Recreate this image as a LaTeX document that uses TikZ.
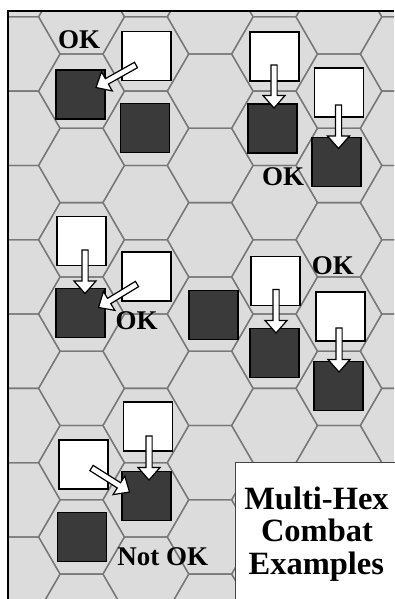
\documentclass[tikz,border=0pt]{standalone}
\usepackage{fontspec}
\setmainfont{Liberation Serif}
\usetikzlibrary{calc}
\definecolor{boardgray}{HTML}{DCDCDC}
\definecolor{hexgray}{HTML}{787878}
\definecolor{unitdark}{HTML}{3A3A3A}
\definecolor{titleborder}{HTML}{444444}
\tikzset{
  hexline/.style={draw=hexgray, line width=1.3pt},
  whitebox/.style={draw=black, fill=white, line width=1.9pt, minimum size=49pt, inner sep=0pt, outer sep=0pt},
  darkbox/.style={whitebox, fill=unitdark},
  blockarrow/.style={draw=black, fill=white, line width=1.2pt, line join=miter},
  lbl/.style={font=\bfseries\fontsize{27}{27}\selectfont, inner sep=0pt, anchor=base},
  ttl/.style={font=\bfseries\fontsize{32.5}{32.5}\selectfont, inner sep=0pt, anchor=base}
}
\newcommand\blockarr[2]{%
  \draw[blockarrow] let \p1=(#1), \p2=(#2), \n1={atan2(\y2-\y1,\x2-\x1)} in
    ($(\p1)+(\n1+90:3.1pt)$)
    -- ($(\p2)+(\n1+180:12.5pt)+(\n1+90:3.1pt)$)
    -- ($(\p2)+(\n1+180:12.5pt)+(\n1+90:11pt)$)
    -- (\p2)
    -- ($(\p2)+(\n1+180:12.5pt)+(\n1-90:11pt)$)
    -- ($(\p2)+(\n1+180:12.5pt)+(\n1-90:3.1pt)$)
    -- ($(\p1)+(\n1-90:3.1pt)$) -- cycle;}
\begin{document}
\begin{tikzpicture}[x=1pt,y=-1pt]
\useasboundingbox (0,0) rectangle (394,599);
% board
\begin{scope}
  \clip (8.3,11) rectangle (394,599);
  \fill[boardgray] (8.3,11) rectangle (394,599);
  \foreach \c in {-2,...,6}{
    \foreach \k in {-1,...,8}{
      \pgfmathsetmacro\hx{81.5+64.35*\c}
      \pgfmathsetmacro\hy{54.0+74.3*\k+37.15*(1-mod(\c+2,2))}
      \draw[hexline] (\hx,\hy) ++(-42.9,0) -- ++(21.45,-37.15) -- ++(42.9,0)
        -- ++(21.45,37.15) -- ++(-21.45,37.15) -- ++(-42.9,0) -- cycle;
    }
  }
\end{scope}
\draw[line width=2pt, line join=miter] (8.3,599) -- (8.3,11) -- (394,11);

% units
\node[whitebox] (w1) at (146.2,56) {};
\node[darkbox]  (d1) at (80.5,94.7) {};
\node[darkbox]  (d2) at (145,128) {};
\node[whitebox] (w2) at (274.3,56.7) {};
\node[darkbox]  (d3) at (272.5,128.5) {};
\node[whitebox] (w3) at (339,92.5) {};
\node[darkbox]  (d4) at (336.5,162) {};
\node[whitebox] (w4) at (81.7,241) {};
\node[darkbox]  (d5) at (80.5,313) {};
\node[whitebox] (w5) at (146.3,276.7) {};
\node[darkbox]  (d6) at (213.3,315) {};
\node[whitebox] (w6) at (275.7,281) {};
\node[darkbox]  (d7) at (274.5,353) {};
\node[whitebox] (w7) at (340.2,316.7) {};
\node[darkbox]  (d8) at (338.5,386) {};
\node[whitebox] (w8) at (148,426.7) {};
\node[whitebox] (w9) at (83.3,464.7) {};
\node[darkbox]  (d9) at (146.2,496) {};
\node[darkbox]  (d10) at (82,537) {};

% arrows
\coordinate (a1s) at (136,65);     \coordinate (a1e) at (96,87.5);
\coordinate (a2s) at (274,65);     \coordinate (a2e) at (274,108);
\coordinate (a3s) at (338.5,105);  \coordinate (a3e) at (338.5,148.5);
\coordinate (a4s) at (85,250);     \coordinate (a4e) at (85,293.5);
\coordinate (a5s) at (137,284);    \coordinate (a5e) at (98.5,307.5);
\coordinate (a6s) at (276,289.5);  \coordinate (a6e) at (276,333);
\coordinate (a7s) at (339,328);    \coordinate (a7e) at (339,372);
\coordinate (a8s) at (149,436);    \coordinate (a8e) at (149,480);
\coordinate (a9s) at (91.5,468);   \coordinate (a9e) at (129.5,492);
\blockarr{a1s}{a1e}
\blockarr{a2s}{a2e}
\blockarr{a3s}{a3e}
\blockarr{a4s}{a4e}
\blockarr{a5s}{a5e}
\blockarr{a6s}{a6e}
\blockarr{a7s}{a7e}
\blockarr{a8s}{a8e}
\blockarr{a9s}{a9e}

% labels
\node[lbl] (ok1) at (79.2,48.3) {OK};
\node[lbl] (ok2) at (283.2,185) {OK};
\node[lbl] (ok3) at (136.7,329.3) {OK};
\node[lbl] (ok4) at (332.8,274) {OK};
\node[lbl] (notok) at (162.8,565) {Not OK};

% title box
\draw[draw=titleborder, fill=white, line width=1pt] (235,462) rectangle (400,605);
\node[ttl] (title1) at (316.5,509) {Multi-Hex};
\node[ttl] (title2) at (317,541) {Combat};
\node[ttl] (title3) at (316.3,574) {Examples};
\end{tikzpicture}
\end{document}
